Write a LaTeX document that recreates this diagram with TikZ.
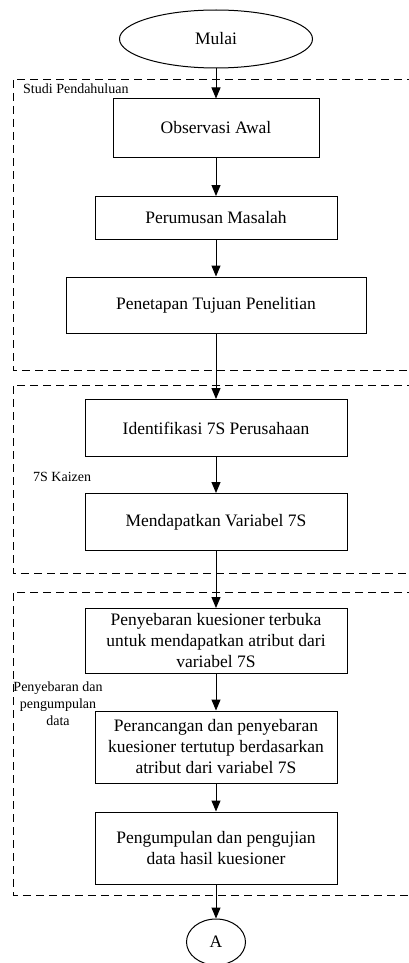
\documentclass[tikz,border=0pt]{standalone}
\usepackage{fontspec}
\setmainfont{Liberation Serif}
\usetikzlibrary{shapes.geometric,arrows.meta}
\begin{document}
\begin{tikzpicture}[x=1pt,y=-1pt,
    proc/.style={draw,line width=1pt,align=center,inner sep=0pt,
      font=\fontsize{17.5}{21}\selectfont},
    term/.style={draw,ellipse,line width=1pt,inner sep=0pt,
      font=\fontsize{17.5}{21}\selectfont},
    grp/.style={dashed,dash pattern=on 8pt off 5pt,line width=0.9pt},
    grplabel/.style={font=\fontsize{14}{17}\selectfont,inner sep=0pt},
    flow/.style={-{Triangle[length=11pt,width=9pt]},line width=1pt}]
    \useasboundingbox (0,0) rectangle (409,963);
    % start
    \node[term,minimum width=193,minimum height=58] (mulai) at (216,39) {Mulai};
    % studi pendahuluan
    \draw[grp] (415,79) -| (13,370) -- (415,370);
    \node[grplabel,anchor=west] (lstudi) at (23,89) {Studi Pendahuluan};
    \node[proc,minimum width=206,minimum height=58] (obs) at (216,128) {Observasi Awal};
    \node[proc,minimum width=242,minimum height=43] (rumus) at (216,218) {Perumusan Masalah};
    \node[proc,minimum width=300,minimum height=56] (tuju) at (216,305) {Penetapan Tujuan Penelitian};
    % 7s kaizen
    \draw[grp] (415,385) -| (13,573) -- (415,573);
    \node[grplabel,anchor=west] (lkaizen) at (33,477) {7S Kaizen};
    \node[proc,minimum width=262,minimum height=57] (ident) at (216,428) {Identifikasi 7S Perusahaan};
    \node[proc,minimum width=262,minimum height=57] (var) at (216,522) {Mendapatkan Variabel 7S};
    % penyebaran dan pengumpulan data
    \draw[grp] (415,592) -| (13,895) -- (415,895);
    \node[grplabel,align=center] (ldata) at (58,704) {Penyebaran dan\\pengumpulan\\data};
    \node[proc,minimum width=262,minimum height=65] (sebar) at (216,641)
      {Penyebaran kuesioner terbuka\\untuk mendapatkan atribut dari\\variabel 7S};
    \node[proc,minimum width=242,minimum height=72] (rancang) at (216,747)
      {Perancangan dan penyebaran\\kuesioner tertutup berdasarkan\\atribut dari variabel 7S};
    \node[proc,minimum width=242,minimum height=72] (kumpul) at (216,848)
      {Pengumpulan dan pengujian\\data hasil kuesioner};
    % connector
    \node[term,minimum width=59,minimum height=46] (A) at (216,942) {A};
    \foreach \a/\b in {mulai/obs,obs/rumus,rumus/tuju,tuju/ident,ident/var,
      var/sebar,sebar/rancang,rancang/kumpul,kumpul/A}{
      \draw[flow] (\a) -- (\b);
    }
\end{tikzpicture}
\end{document}
